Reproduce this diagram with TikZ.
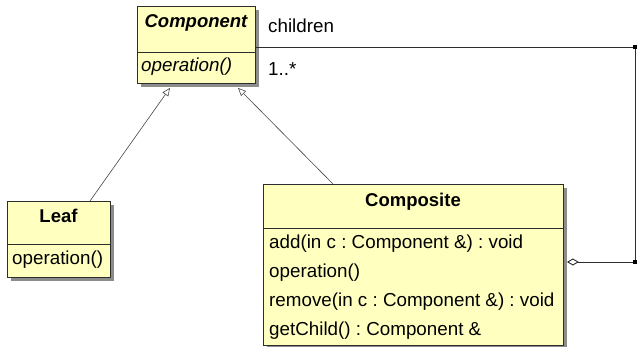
\documentclass[tikz,border=0pt]{standalone}
\usepackage{fontspec}
\setmainfont{Liberation Sans}
\usetikzlibrary{arrows.meta,shadows,calc}
\definecolor{classfill}{RGB}{255,255,192}
\definecolor{edgecol}{RGB}{45,45,45}
\definecolor{genline}{RGB}{70,70,70}
\frenchspacing

\begin{document}
\begin{tikzpicture}[x=1pt,y=-1pt,
  font=\fontsize{18.8}{22}\selectfont,
  classbox/.style={draw=edgecol, fill=classfill, line width=0.9pt, inner sep=0pt,
    drop shadow={shadow xshift=4pt, shadow yshift=-4pt, fill=black!45, opacity=1}},
  divider/.style={draw=edgecol, line width=0.8pt},
  txt/.style={inner sep=0pt, anchor=base west},
  ttl/.style={inner sep=0pt, anchor=base, font=\fontsize{18.5}{22}\selectfont\bfseries},
  gen/.style={draw=genline, line width=0.6pt, -{Triangle[open, length=8pt, width=7pt]}},
  assoc/.style={draw=edgecol, line width=0.9pt},
  corner/.style={fill=black, minimum size=4pt, inner sep=0pt}
]
\useasboundingbox (0,0) rectangle (637,347);

% Component (abstract)
\node[classbox, anchor=north west, minimum width=118pt, minimum height=77pt] (comp) at (137,6) {};
\draw[divider] (137,52) -- (255,52);
\node[ttl, font=\fontsize{18.5}{22}\selectfont\bfseries\itshape] (compname) at (196,28) {Component};
\node[txt, font=\fontsize{18.8}{22}\selectfont\itshape] (compop) at (141,72) {operation()};

% Leaf
\node[classbox, anchor=north west, minimum width=103pt, minimum height=76pt] (leaf) at (7,201) {};
\draw[divider] (7,244) -- (110,244);
\node[ttl] (leafname) at (58.5,223) {Leaf};
\node[txt] (leafop) at (12,265) {operation()};

% Composite
\node[classbox, anchor=north west, minimum width=300pt, minimum height=161pt] (compo) at (263,184) {};
\draw[divider] (263,228) -- (563,228);
\node[ttl] (componame) at (413,207) {Composite};
\node[txt] (m1) at (269,249) {add(in c : Component \&) : void};
\node[txt] (m2) at (269,277.7) {operation()};
\node[txt] (m3) at (269,306.3) {remove(in c : Component \&) : void};
\node[txt] (m4) at (269,335) {getChild() : Component \&};

% Generalizations
\draw[gen] ($(leaf.north west)+(83,0)$) -- ($(comp.south west)+(33,4)$);
\draw[gen] ($(compo.north west)+(70,0)$) -- ($(comp.south west)+(101,4)$);

% Aggregation: children
\coordinate (bendtop) at (635,47);
\coordinate (bendbot) at (635,262);
\draw[assoc, {Diamond[open, length=12pt, width=7pt]}-] ($(compo.north east)+(3,78)$) -- (bendbot) -- (bendtop) -- ($(comp.north east)+(0,41)$);
\node[corner] (sqtop) at (bendtop) {};
\node[corner] (sqbot) at (bendbot) {};
\node[txt] (rolename) at (268,33) {children};
\node[txt] (mult) at (268,76) {1..*};
\end{tikzpicture}
\end{document}
